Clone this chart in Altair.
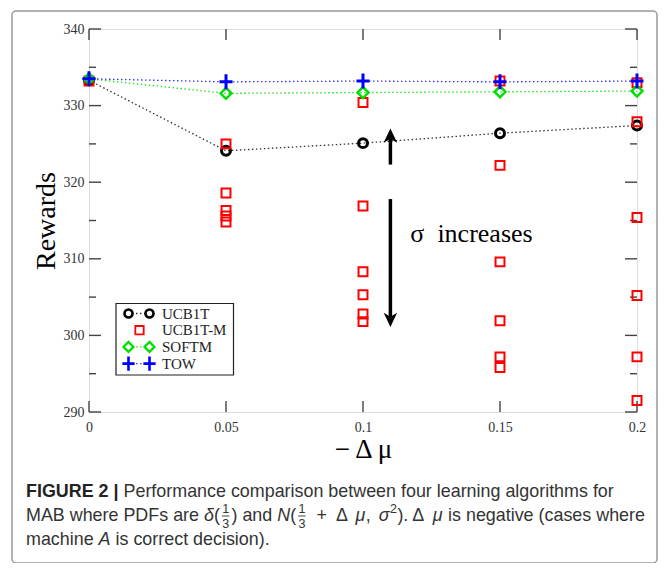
import altair as alt
import pandas as pd

# ---------------- data ----------------
x_vals = [0, 0.05, 0.1, 0.15, 0.2]
ucb1t = [333.3, 324.1, 325.1, 326.4, 327.4]
softm = [333.5, 331.6, 331.7, 331.8, 331.9]
tow = [333.5, 333.1, 333.2, 333.1, 333.2]

ucb1tm_at_0 = [333.2]
ucb1tm_at_005 = [325.0, 318.6, 316.3, 315.6, 314.8]
ucb1tm_at_010 = [330.4, 316.9, 308.3, 305.3, 302.8, 301.8]
ucb1tm_at_015 = [333.2, 322.2, 309.6, 301.9, 297.2, 295.8]
ucb1tm_at_020 = [333.0, 327.9, 315.4, 305.2, 297.2, 291.5]

series_names = ["UCB1T", "UCB1T-M", "SOFTM", "TOW"]
x_ticks = [0, 0.05, 0.1, 0.15, 0.2]
y_ticks = [290, 300, 310, 320, 330, 340]
y_minor = [295, 305, 315, 325, 335]

# annotation anchors (data space)
arrow_x = [0.11]
arrow_up = [322.3, 327.0]      # start, tip
arrow_down = [317.8, 301.1]    # start, tip
note_xy = [0.1396, 313.3]
note_text = "σ\u2002increases"

# caption pieces: (text, kind) kind: r=regular, b=bold, i=italic, f=fraction 1/3, s=superscript, g=math gap
caption_line1 = [("FIGURE 2 | ", "b"), ("Performance comparison between four learning algorithms for", "r")]
caption_line2 = [("MAB where PDFs are ", "r"), ("δ", "i"), ("(", "r"), ("1/3", "f"), (") and ", "r"),
                 ("N", "i"), ("(", "r"), ("1/3", "f"), ("4", "g"), (" + ", "r"), ("4", "g"), ("Δ ", "r"),
                 ("3", "g"), ("μ", "i"), (", ", "r"), ("3", "g"),
                 ("σ", "i"), ("2", "s"), ("). Δ ", "r"), ("3", "g"), ("μ", "i"), (" is negative (cases where", "r")]
caption_line3 = [("machine ", "r"), ("A", "i"), (" is correct decision).", "r")]

# ---------------- build ----------------
W, H = 548, 383
SERIF = "Liberation Serif"
SANS = "Liberation Sans"

ucb1tm_x, ucb1tm_y = [], []
for xv, ys in zip(x_vals, [ucb1tm_at_0, ucb1tm_at_005, ucb1tm_at_010, ucb1tm_at_015, ucb1tm_at_020]):
    for yv in ys:
        ucb1tm_x.append(xv)
        ucb1tm_y.append(yv)

df_ucb = pd.DataFrame({"x": x_vals, "y": ucb1t})
df_soft = pd.DataFrame({"x": x_vals, "y": softm})
df_tow = pd.DataFrame({"x": x_vals, "y": tow})
df_m = pd.DataFrame({"x": ucb1tm_x, "y": ucb1tm_y})

X = alt.X("x:Q", scale=alt.Scale(domain=[0, 0.2], nice=False, zero=False),
          axis=alt.Axis(values=x_ticks, format="~g", title="− Δ μ", grid=False, ticks=False,
                        domain=False, labelFont=SERIF, labelFontSize=14, labelColor="#333",
                        labelPadding=8, labelFlush=False, labelOverlap=False,
                        titleFont=SERIF, titleFontSize=27, titleFontWeight="normal",
                        titleColor="#000", titlePadding=2))
Y = alt.Y("y:Q", scale=alt.Scale(domain=[290, 340], nice=False, zero=False),
          axis=alt.Axis(values=y_ticks, title="Rewards", grid=False, ticks=False,
                        domain=False, labelFont=SERIF, labelFontSize=14, labelColor="#333",
                        labelPadding=5, labelFlush=False, labelOverlap=False,
                        titleFont=SERIF, titleFontSize=28, titleFontWeight="normal",
                        titleColor="#000", titlePadding=3))

PLUS = "M-1,0H1M0,-1.15V1.15"
UP_HEAD = "M0,0L0.9,1.9L0,1.35L-0.9,1.9Z"
DOWN_HEAD = "M0,0L0.9,-1.9L0,-1.35L-0.9,-1.9Z"

layers = []

# outer figure frame
layers.append(alt.Chart(pd.DataFrame({"k": [0]})).mark_rect(
    fill="white", fillOpacity=0, stroke="#999", strokeWidth=1.5, cornerRadius=4).encode(
    x=alt.value(-77), x2=alt.value(568), y=alt.value(-18), y2=alt.value(534)))

# ticks (inward, mirrored)
tx = pd.DataFrame({"x": x_ticks})
ty = pd.DataFrame({"y": y_ticks})
tym = pd.DataFrame({"y": y_minor})
TC = dict(color="#444", strokeWidth=1.4)
layers += [
    alt.Chart(tx).mark_rule(**TC).encode(x=X, y=alt.value(H), y2=alt.value(H - 11)),
    alt.Chart(tx).mark_rule(**TC).encode(x=X, y=alt.value(0), y2=alt.value(11)),
    alt.Chart(ty).mark_rule(**TC).encode(y=Y, x=alt.value(0), x2=alt.value(12)),
    alt.Chart(ty).mark_rule(**TC).encode(y=Y, x=alt.value(W), x2=alt.value(W - 12)),
    alt.Chart(tym).mark_rule(**TC).encode(y=Y, x=alt.value(0), x2=alt.value(7)),
    alt.Chart(tym).mark_rule(**TC).encode(y=Y, x=alt.value(W), x2=alt.value(W - 7)),
]

# series
layers += [
    alt.Chart(df_ucb).mark_line(color="#333", strokeDash=[1.5, 2.5], strokeWidth=1.3).encode(x=X, y=Y),
    alt.Chart(df_ucb).mark_point(shape="circle", filled=False, size=80, strokeWidth=3,
                                 color="black", opacity=1).encode(x=X, y=Y),
    alt.Chart(df_m).mark_point(shape="square", filled=False, size=80, strokeWidth=2,
                               color="#ff0000", opacity=1).encode(x=X, y=Y),
    alt.Chart(df_soft).mark_line(color="#22dd22", strokeDash=[1.5, 2.5], strokeWidth=1.3).encode(x=X, y=Y),
    alt.Chart(df_soft).mark_point(shape="diamond", filled=False, size=120, strokeWidth=2.5,
                                  color="#00e000", opacity=1).encode(x=X, y=Y),
    alt.Chart(df_tow).mark_line(color="#3333ff", strokeDash=[1.5, 2.5], strokeWidth=1.3).encode(x=X, y=Y),
    alt.Chart(df_tow).mark_point(shape=PLUS, filled=False, size=170, strokeWidth=3,
                                 color="#0000ff", opacity=1).encode(x=X, y=Y),
]

# annotation arrows + text
df_up = pd.DataFrame({"x": arrow_x, "y": [arrow_up[0]], "tip": [arrow_up[1]]})
df_dn = pd.DataFrame({"x": arrow_x, "y": [arrow_down[0]], "tip": [arrow_down[1]]})
layers += [
    alt.Chart(df_up).transform_calculate(y2="datum.tip - 1").mark_rule(color="black", strokeWidth=3.5).encode(
        x=X, y=Y, y2="y2:Q"),
    alt.Chart(df_up).transform_calculate(yt="datum.tip").mark_point(
        shape=UP_HEAD, filled=True, size=225, color="black", opacity=1, strokeWidth=0).encode(
        x=X, y=alt.Y("yt:Q")),
    alt.Chart(df_dn).transform_calculate(y2="datum.tip + 1").mark_rule(color="black", strokeWidth=3.5).encode(
        x=X, y=Y, y2="y2:Q"),
    alt.Chart(df_dn).transform_calculate(yt="datum.tip").mark_point(
        shape=DOWN_HEAD, filled=True, size=225, color="black", opacity=1, strokeWidth=0).encode(
        x=X, y=alt.Y("yt:Q")),
    alt.Chart(pd.DataFrame({"x": [note_xy[0]], "y": [note_xy[1]], "t": [note_text]})).mark_text(
        font=SERIF, fontSize=26, color="black", align="center", baseline="middle").encode(
        x=X, y=Y, text="t:N"),
]

# legend (manual, drawn as box in the lower-left)
LX0, LX1, LY0, LY1 = 27, 144.5, 274.5, 346
layers.append(alt.Chart(pd.DataFrame({"k": [0]})).mark_rect(
    fill="white", stroke="#222", strokeWidth=1.2).encode(
    x=alt.value(LX0), x2=alt.value(LX1), y=alt.value(LY0), y2=alt.value(LY1)))

leg_style = {
    "UCB1T": dict(shape="circle", filled=False, size=64, strokeWidth=2.6, color="black", line="#333"),
    "UCB1T-M": dict(shape="square", filled=False, size=70, strokeWidth=1.8, color="#ff0000", line=None),
    "SOFTM": dict(shape="diamond", filled=False, size=100, strokeWidth=2.2, color="#00e000", line="#22dd22"),
    "TOW": dict(shape=PLUS, filled=False, size=150, strokeWidth=2.6, color="#0000ff", line="#3333ff"),
}
for i, name in enumerate(series_names):
    st = dict(leg_style[name])
    line_col = st.pop("line")
    py = 284.5 + i * 16.7
    d = pd.DataFrame({"name": [name]})
    if line_col:
        layers.append(alt.Chart(d).mark_rule(color=line_col, strokeDash=[1.5, 2.5], strokeWidth=1.3).encode(
            x=alt.value(43), x2=alt.value(57), y=alt.value(py)))
        for sx in (39.5, 60.5):
            layers.append(alt.Chart(d).mark_point(opacity=1, **st).encode(x=alt.value(sx), y=alt.value(py)))
    else:
        layers.append(alt.Chart(d).mark_point(opacity=1, **st).encode(x=alt.value(50.5), y=alt.value(py)))
    layers.append(alt.Chart(d).mark_text(font=SERIF, fontSize=15, color="#222", align="left",
                                         baseline="middle").encode(
        x=alt.value(73), y=alt.value(py), text="name:N"))

# caption (Helvetica/Arial metrics, Liberation Sans is metric compatible)
HW = {" ": 278, "(": 333, ")": 333, "+": 584, ",": 278, "-": 333, ".": 278, "|": 260,
      "A": 667, "B": 667, "C": 722, "D": 722, "E": 667, "F": 611, "G": 778, "I": 278,
      "M": 833, "N": 722, "P": 667, "R": 722, "S": 667, "U": 722,
      "a": 556, "b": 556, "c": 500, "d": 556, "e": 556, "f": 278, "g": 556, "h": 556,
      "i": 222, "l": 222, "m": 833, "n": 556, "o": 556, "p": 556, "r": 333, "s": 500,
      "t": 278, "u": 556, "v": 500, "w": 722, "x": 500, "y": 500,
      "Δ": 640, "μ": 576, "σ": 600, "δ": 556}
HWB = {" ": 278, "|": 280, "F": 611, "I": 278, "G": 778, "U": 722, "R": 722, "E": 667, "2": 556}


def text_w(t, size, bold=False):
    tab = HWB if bold else HW
    return sum(tab.get(c, HW.get(c, 556)) for c in t) * size / 1000.0


FS = 17.9
CX0 = -63


def cap_layers(pieces, y):
    out = []
    cx = CX0
    for t, kind in pieces:
        if kind == "g":
            cx += float(t)
            continue
        if kind == "f":
            num, den = t.split("/")
            fw = 11.5
            for s, dy in ((num, -7), (den, 7.5)):
                out.append(alt.Chart(pd.DataFrame({"t": [s]})).mark_text(
                    font=SANS, fontSize=12.5, color="#333", align="center", baseline="middle").encode(
                    x=alt.value(cx + fw / 2), y=alt.value(y + dy), text="t:N"))
            out.append(alt.Chart(pd.DataFrame({"t": [t]})).mark_rule(color="#333", strokeWidth=0.9).encode(
                x=alt.value(cx + 2), x2=alt.value(cx + fw - 2), y=alt.value(y)))
            cx += fw
            continue
        if kind == "s":
            out.append(alt.Chart(pd.DataFrame({"t": [t]})).mark_text(
                font=SANS, fontSize=12.5, color="#333", align="left", baseline="middle").encode(
                x=alt.value(cx + 0.5), y=alt.value(y - 7), text="t:N"))
            cx += text_w(t, 12.5) + 1
            continue
        bold = kind == "b"
        kw = dict(font=SANS, fontSize=FS, color="#333", align="left", baseline="middle")
        if bold:
            kw.update(fontWeight="bold", color="#222")
        if kind == "i":
            kw.update(fontStyle="italic")
        lead = len(t) - len(t.lstrip(" "))
        core = t.strip(" ")
        cx += text_w(" " * lead, FS, bold)
        out.append(alt.Chart(pd.DataFrame({"t": [core]})).mark_text(**kw).encode(
            x=alt.value(cx), y=alt.value(y), text="t:N"))
        cx += text_w(t.lstrip(" "), FS, bold)
    return out


layers += cap_layers(caption_line1, 463)
layers += cap_layers(caption_line2, 487)
layers += cap_layers(caption_line3, 511)

chart = alt.layer(*layers).properties(
    width=W, height=H,
    padding={"left": 81, "top": 21, "right": 24, "bottom": 151},
    autosize=alt.AutoSizeParams(type="none"),
).configure_view(stroke="#444", strokeWidth=1.5).configure(background="white")

chart.save("out.html", embed_options={"renderer": "svg", "actions": False})
